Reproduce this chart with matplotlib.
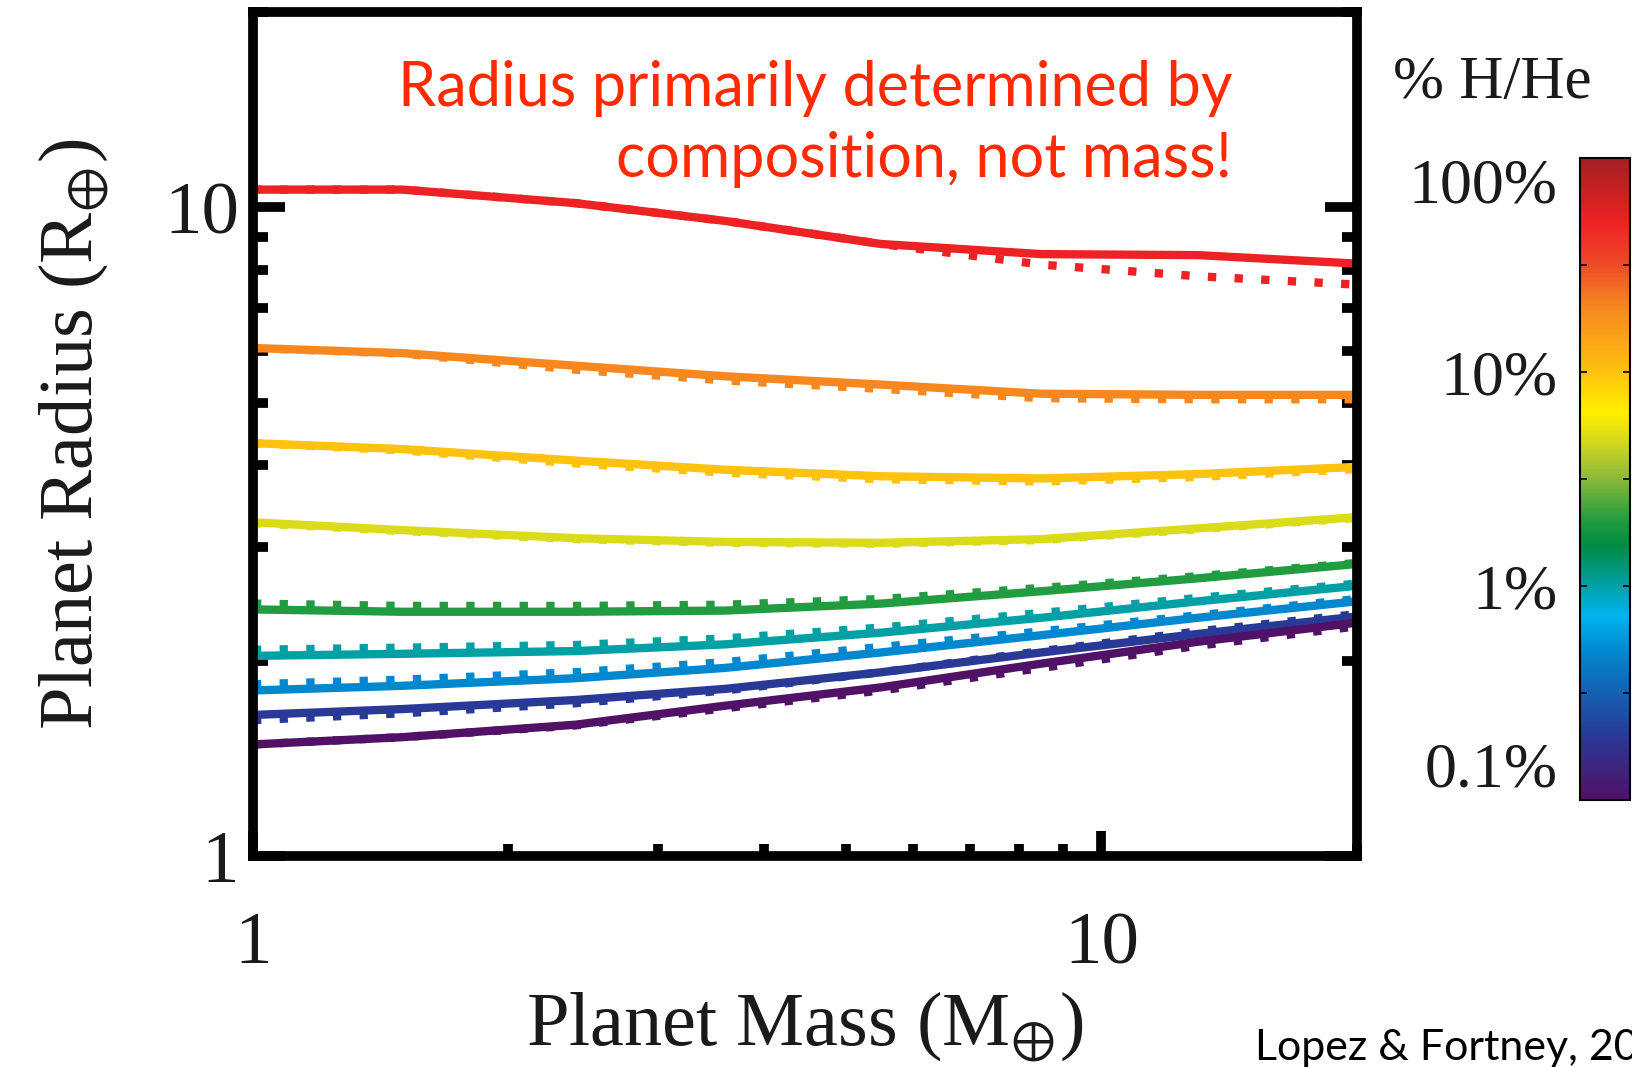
import numpy as np
import matplotlib
matplotlib.use("Agg")
import matplotlib.pyplot as plt
from matplotlib.colors import LinearSegmentedColormap, LogNorm
from matplotlib.cm import ScalarMappable
from matplotlib.ticker import LogLocator, NullFormatter, FixedLocator

# planet mass grid (Earth masses)
mass = [1, 1.5, 2.4, 3.6, 5.5, 8.5, 13, 20]

# H/He envelope fraction (%) of each curve, top to bottom
hhe_pct = [50, 20, 10, 5, 2, 1, 0.5, 0.2, 0.1]

# solid curves: radius (Earth radii)
r_50 = [10.65, 10.65, 10.15, 9.53, 8.78, 8.47, 8.44, 8.19]
r_20 = [6.07, 5.96, 5.70, 5.49, 5.33, 5.16, 5.14, 5.14]
r_10 = [4.33, 4.24, 4.07, 3.94, 3.85, 3.82, 3.88, 3.98]
r_5 = [3.27, 3.18, 3.09, 3.05, 3.04, 3.08, 3.20, 3.33]
r_2 = [2.40, 2.38, 2.38, 2.39, 2.45, 2.56, 2.68, 2.82]
r_1 = [2.035, 2.05, 2.07, 2.12, 2.21, 2.33, 2.47, 2.61]
r_05 = [1.80, 1.83, 1.88, 1.95, 2.06, 2.19, 2.33, 2.47]
r_02 = [1.65, 1.685, 1.74, 1.81, 1.92, 2.06, 2.20, 2.34]
r_01 = [1.486, 1.525, 1.594, 1.705, 1.82, 1.98, 2.14, 2.29]

# dotted curves: radius (Earth radii)
d_50 = [10.65, 10.65, 10.15, 9.53, 8.78, 8.16, 7.83, 7.60]
d_20 = [6.07, 5.95, 5.62, 5.41, 5.25, 5.08, 5.06, 5.06]
d_10 = [4.33, 4.22, 4.03, 3.90, 3.81, 3.78, 3.84, 3.95]
d_5 = [3.26, 3.17, 3.08, 3.04, 3.03, 3.07, 3.19, 3.32]
d_2 = [2.45, 2.43, 2.43, 2.44, 2.49, 2.59, 2.70, 2.83]
d_1 = [2.08, 2.095, 2.115, 2.165, 2.25, 2.37, 2.50, 2.63]
d_05 = [1.84, 1.87, 1.92, 1.99, 2.10, 2.22, 2.35, 2.49]
d_02 = [1.62, 1.66, 1.72, 1.80, 1.92, 2.07, 2.22, 2.36]
d_01 = [1.486, 1.525, 1.59, 1.69, 1.80, 1.95, 2.11, 2.26]

solid = [r_50, r_20, r_10, r_5, r_2, r_1, r_05, r_02, r_01]
dotted = [d_50, d_20, d_10, d_5, d_2, d_1, d_05, d_02, d_01]

# colour scale anchors (fraction along log 0.1%..100%)
anchors = [
    (0.0, "#511166"), (0.1, "#283a97"), (0.233, "#0089cf"), (0.286, "#00b4f0"),
    (0.333, "#00a0a6"), (0.395, "#008c44"), (0.434, "#1f9b40"), (0.5, "#8ab83a"),
    (0.566, "#dedc18"), (0.604, "#fff000"), (0.667, "#ffc20e"), (0.767, "#f6891f"),
    (0.836, "#ee4a24"), (0.9, "#ee2224"), (1.0, "#a31f22"),
]
cmap = LinearSegmentedColormap.from_list("hhe", anchors)
norm = LogNorm(0.1, 100)

plt.rcParams.update({"font.family": "Liberation Serif", "mathtext.fontset": "stix"})
ink = "#1a1a1a"

fig = plt.figure(figsize=(16.33, 10.67), dpi=100)
ax = fig.add_axes([0.1549, 0.1977, 0.676, 0.791])

for pct, rs, rd in zip(hhe_pct, solid, dotted):
    c = cmap(norm(pct))
    ax.plot(mass, rd, color=c, lw=6, ls=(0, (1, 2.2)), dash_capstyle="butt")
    ax.plot(mass, rs, color=c, lw=6, solid_capstyle="butt")

ax.set_xscale("log")
ax.set_yscale("log")
ax.set_xlim(1, 20)
ax.set_ylim(1, 20)

for s in ax.spines.values():
    s.set_linewidth(7)

ax.set_xticks([1, 10], labels=["1", "10"])
ax.set_yticks([1, 10], labels=["1", "10"])
ax.xaxis.set_minor_locator(LogLocator(base=10, subs=np.arange(2, 10)))
ax.yaxis.set_minor_locator(LogLocator(base=10, subs=np.arange(2, 10)))
ax.xaxis.set_minor_formatter(NullFormatter())
ax.yaxis.set_minor_formatter(NullFormatter())

ax.tick_params(axis="x", which="major", direction="in", length=18, width=7,
               pad=40, labelsize=54, labelcolor=ink, top=False)
ax.tick_params(axis="x", which="minor", direction="in", length=9, width=7, top=False)
ax.tick_params(axis="y", which="major", direction="in", length=23, width=7,
               left=True, right=True, pad=10, labelsize=54, labelcolor=ink)
ax.tick_params(axis="y", which="minor", direction="in", length=11, width=7,
               left=True, right=True)

ax.set_xlabel(r"Planet Mass (M$_{\oplus}$)", fontsize=55, color=ink, labelpad=8)
ax.set_ylabel(r"Planet Radius (R$_{\oplus}$)", fontsize=55, color=ink, labelpad=38)

# colour bar
cax = fig.add_axes([0.9675, 0.2502, 0.0306, 0.6017])
cb = fig.colorbar(ScalarMappable(norm=norm, cmap=cmap), cax=cax)
cb.outline.set_linewidth(1.5)
cb.set_ticks([0.1, 1, 10, 100], labels=["0.1%", "1%", "10%", "100%"])
cax.yaxis.set_minor_locator(FixedLocator([10 ** -0.5, 10 ** 0.5, 10 ** 1.5]))
cax.yaxis.set_minor_formatter(NullFormatter())
cax.tick_params(which="both", direction="in", left=True, right=True,
                labelleft=True, labelright=False, length=5, width=1.2,
                labelsize=46, labelcolor=ink, pad=16)
tl = cax.get_yticklabels()
tl[0].set_va("bottom")
tl[-1].set_va("top")

fig.text(0.9137, 0.9222, "% H/He", ha="center", va="center", fontsize=44, color=ink)

red = "#ff2a00"
fig.text(0.7544, 0.9007, "Radius primarily determined by", ha="right",
         va="baseline", fontsize=44, color=red, family="Lato")
fig.text(0.7544, 0.8341, "composition, not mass!", ha="right",
         va="baseline", fontsize=44, color=red, family="Lato")

fig.text(0.7685, 0.0066, "Lopez & Fortney, 2014", ha="left", va="baseline",
         fontsize=31, color="black", family="Lato")

fig.savefig("out.png", dpi=100)
